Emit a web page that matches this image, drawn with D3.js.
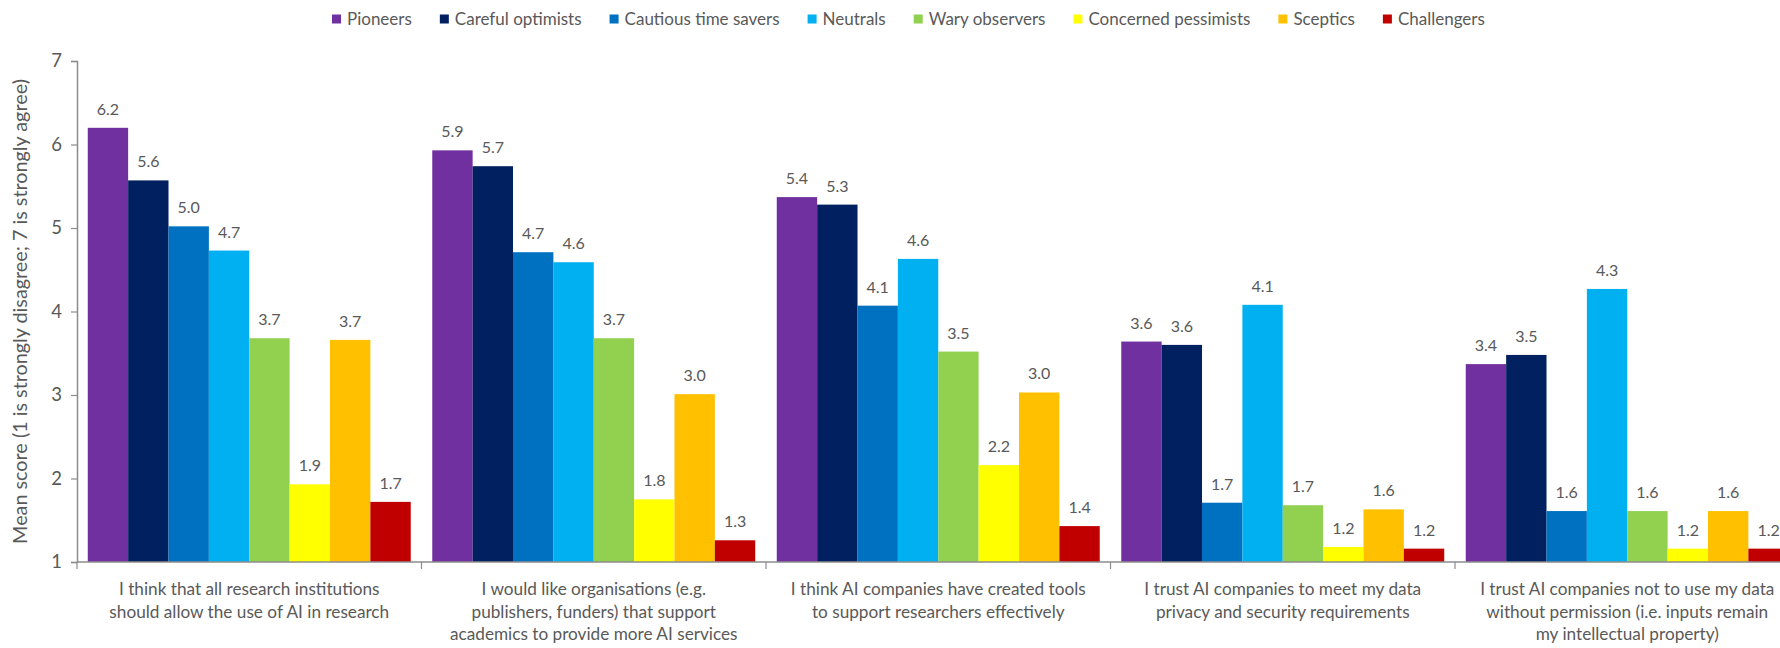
<!DOCTYPE html>
<html>
<head>
<meta charset="utf-8">
<script src="https://cdn.jsdelivr.net/npm/d3@7"></script>
<style>
  html, body { margin: 0; padding: 0; background: #ffffff; }
  svg { display: block; font-family: Lato, "Open Sans", sans-serif; }
</style>
</head>
<body>
<svg id="chart" width="1780" height="648"></svg>
<script>
// Statements (each split into the lines shown under the axis)
const statements = [
  ["I think that all research institutions", "should allow the use of AI in research"],
  ["I would like organisations (e.g.", "publishers, funders) that support", "academics to provide more AI services"],
  ["I think AI companies have created tools", "to support researchers effectively"],
  ["I trust AI companies to meet my data", "privacy and security requirements"],
  ["I trust AI companies not to use my data", "without permission (i.e. inputs remain", "my intellectual property)"]
];

const segments = ["Pioneers", "Careful optimists", "Cautious time savers", "Neutrals",
                  "Wary observers", "Concerned pessimists", "Sceptics", "Challengers"];

const segmentColors = ["#7030A0", "#002060", "#0070C0", "#00B0F0",
                       "#92D050", "#FFFF00", "#FFC000", "#C00000"];

// Mean scores per segment, one value per statement
const pioneers            = [6.20, 5.93, 5.37, 3.64, 3.37];
const carefulOptimists    = [5.57, 5.74, 5.28, 3.60, 3.48];
const cautiousTimeSavers  = [5.02, 4.71, 4.07, 1.71, 1.61];
const neutrals            = [4.73, 4.59, 4.63, 4.08, 4.27];
const waryObservers       = [3.68, 3.68, 3.52, 1.68, 1.61];
const concernedPessimists = [1.93, 1.75, 2.16, 1.18, 1.16];
const sceptics            = [3.66, 3.01, 3.03, 1.63, 1.61];
const challengers         = [1.72, 1.26, 1.43, 1.16, 1.16];

const seriesValues = [pioneers, carefulOptimists, cautiousTimeSavers, neutrals,
                      waryObservers, concernedPessimists, sceptics, challengers];

const yTicks = [1, 2, 3, 4, 5, 6, 7];
const yTitle = "Mean score (1 is strongly disagree; 7 is strongly agree)";

const svg = d3.select("#chart");
const textColor = "#595959";
const axisColor = "#8C8C8C";

const plot = { left: 77, top: 61, bottom: 562, right: 1799.5 };

const x0 = d3.scaleBand()
  .domain(d3.range(statements.length))
  .range([plot.left, plot.right])
  .paddingInner(0.0625)
  .paddingOuter(0.03125);

const x1 = d3.scaleBand()
  .domain(d3.range(segments.length))
  .range([0, x0.bandwidth()])
  .padding(0);

const y = d3.scaleLinear().domain([1, 7]).range([plot.bottom, plot.top]);

// Bars
const groups = svg.append("g").selectAll("g")
  .data(statements.map((s, i) => i))
  .join("g")
  .attr("transform", i => `translate(${x0(i)},0)`);

groups.selectAll("rect")
  .data(i => seriesValues.map((vals, s) => ({ s, v: vals[i] })))
  .join("rect")
  .attr("x", d => x1(d.s))
  .attr("y", d => y(d.v))
  .attr("width", x1.bandwidth())
  .attr("height", d => y(1) - y(d.v))
  .attr("fill", d => segmentColors[d.s]);

// Value labels
groups.selectAll("text")
  .data(i => seriesValues.map((vals, s) => ({ s, v: vals[i] })))
  .join("text")
  .attr("x", d => x1(d.s) + x1.bandwidth() / 2)
  .attr("y", d => y(d.v) - 13)
  .attr("text-anchor", "middle")
  .attr("font-size", 16)
  .attr("fill", textColor)
  .text(d => d.v.toFixed(1));

// Y axis
const yAxis = svg.append("g")
  .attr("transform", `translate(${plot.left},0)`)
  .call(d3.axisLeft(y).tickValues(yTicks).tickSize(6).tickPadding(9).tickFormat(d3.format("d")));
yAxis.select(".domain").attr("stroke", axisColor).attr("stroke-width", 1.5);
yAxis.selectAll(".tick line").attr("stroke", axisColor).attr("stroke-width", 1.2);
yAxis.selectAll(".tick text").attr("fill", textColor).attr("font-size", 18.5)
  .attr("font-family", "Lato, 'Open Sans', sans-serif");

// X axis baseline and category separators
const xBoundaries = d3.range(statements.length + 1).map(i =>
  plot.left + i * x0.step());
svg.append("line")
  .attr("x1", plot.left).attr("x2", 1780)
  .attr("y1", plot.bottom).attr("y2", plot.bottom)
  .attr("stroke", axisColor).attr("stroke-width", 1.5);
svg.append("g").selectAll("line")
  .data(xBoundaries)
  .join("line")
  .attr("x1", d => d).attr("x2", d => d)
  .attr("y1", plot.bottom).attr("y2", plot.bottom + 7)
  .attr("stroke", axisColor).attr("stroke-width", 1.2);

// Category labels
const catLabels = svg.append("g").selectAll("text")
  .data(statements)
  .join("text")
  .attr("text-anchor", "middle")
  .attr("font-size", 17.2)
  .attr("fill", textColor)
  .attr("transform", (d, i) => `translate(${x0(i) + x0.bandwidth() / 2},595)`);
catLabels.selectAll("tspan")
  .data(d => d)
  .join("tspan")
  .attr("x", 0)
  .attr("y", (d, j) => j * 22.7)
  .text(d => d);

// Y axis title
svg.append("text")
  .attr("transform", `translate(27,${(plot.top + plot.bottom) / 2}) rotate(-90)`)
  .attr("text-anchor", "middle")
  .attr("font-size", 19.8)
  .attr("fill", textColor)
  .text(yTitle);

// Legend
const legend = svg.append("g").attr("transform", "translate(332,19)");
let lx = 0;
segments.forEach((name, i) => {
  const item = legend.append("g").attr("transform", `translate(${lx},0)`);
  item.append("rect")
    .attr("x", 0).attr("y", -4.5)
    .attr("width", 9).attr("height", 9)
    .attr("fill", segmentColors[i]);
  const t = item.append("text")
    .attr("x", 15).attr("y", 6)
    .attr("font-size", 17)
    .attr("fill", textColor)
    .text(name);
  lx += 15 + t.node().getComputedTextLength() + 28;
});
</script>
</body>
</html>
